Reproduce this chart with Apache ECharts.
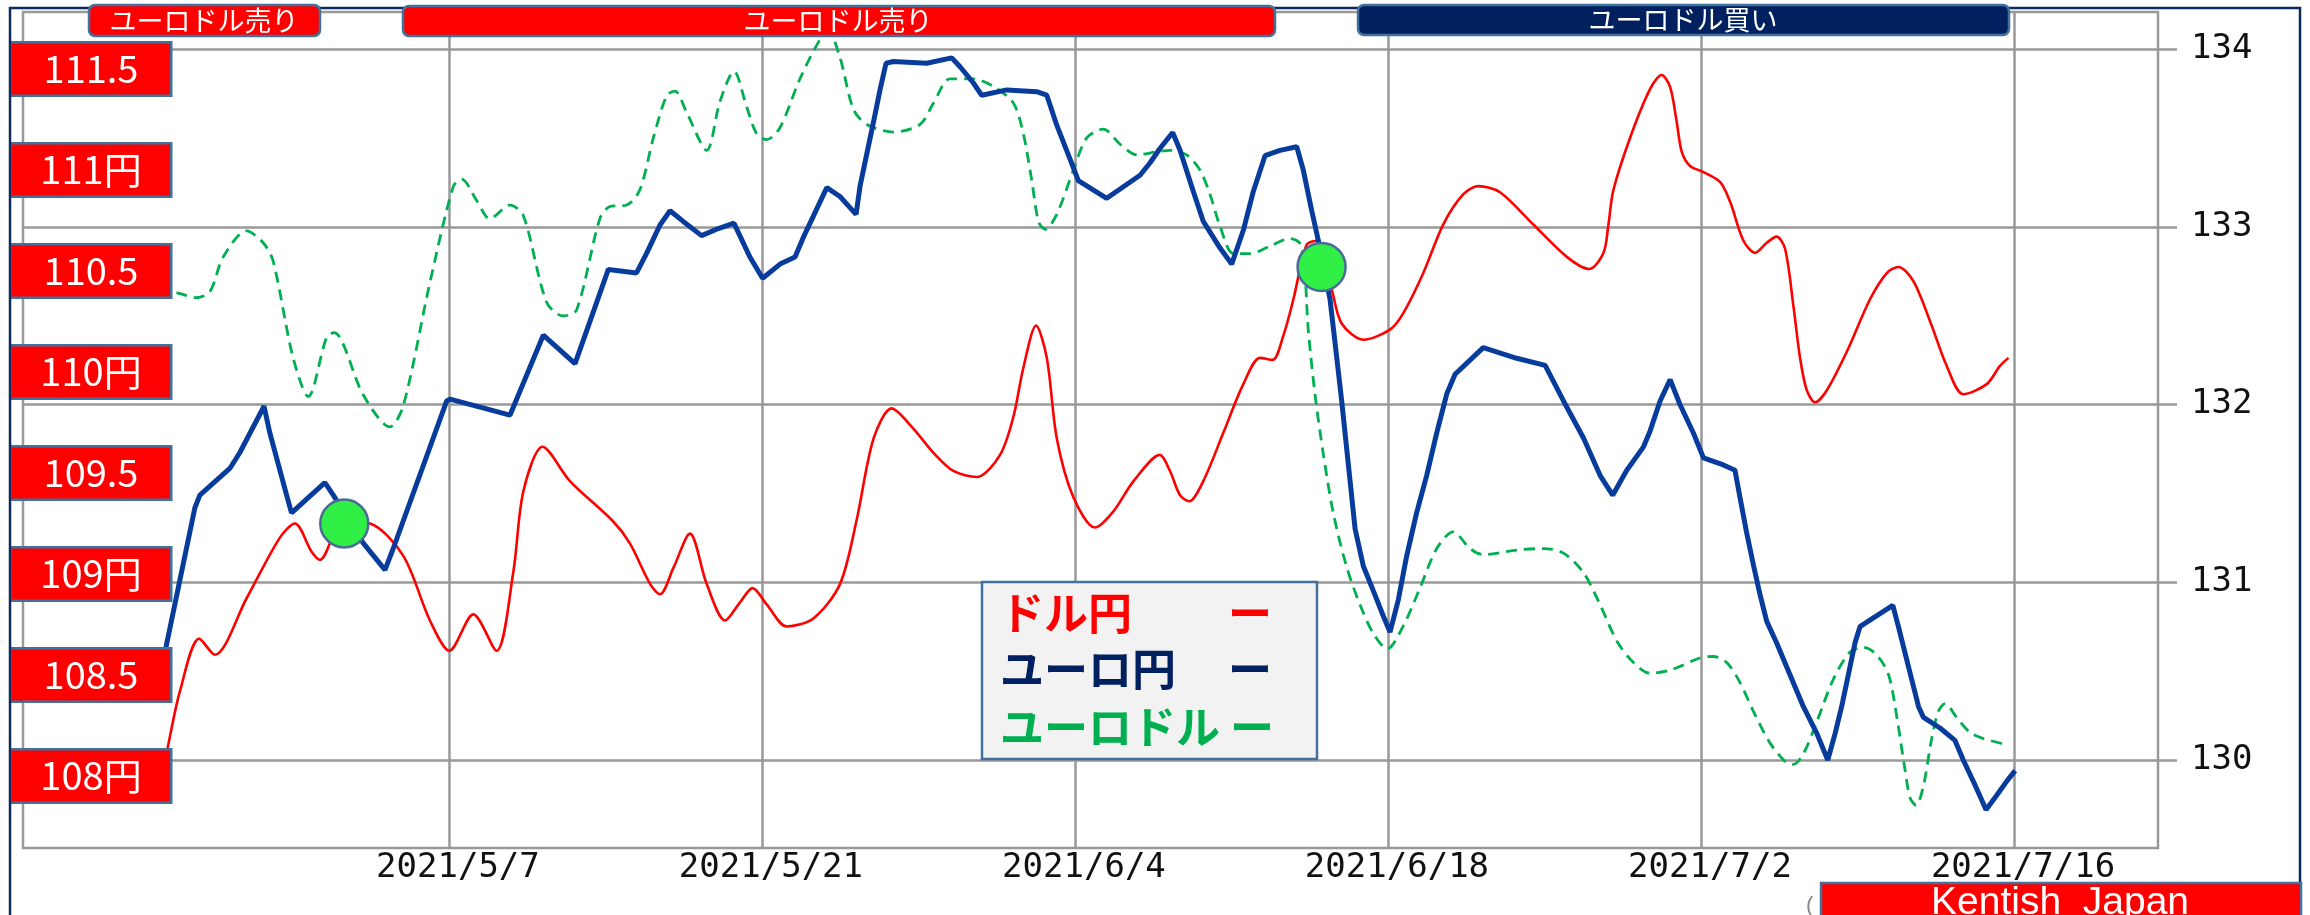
<!DOCTYPE html>
<html>
<head>
<meta charset="utf-8">
<title>ドル円・ユーロ円・ユーロドル</title>
<style>
  html, body { margin: 0; padding: 0; background: #fff; }
  #main { width: 2310px; height: 915px; }
</style>
</head>
<body>
<div id="main"></div>
<script src="https://cdn.jsdelivr.net/npm/echarts@6/dist/echarts.min.js"></script>
<script>
// x = days since 2021/4/23
var xTickDays = [14, 28, 42, 56, 70, 84];
var xLabels = ['2021/5/7', '2021/5/21', '2021/6/4', '2021/6/18', '2021/7/2', '2021/7/16'];

var leftTicks = [108, 108.5, 109, 109.5, 110, 110.5, 111, 111.5];
var leftLabels = ['108円', '108.5', '109円', '109.5', '110円', '110.5', '111円', '111.5'];
var rightTicks = [130, 131, 132, 133, 134];

// ドル円 (left axis)
var usdJpyDays = [1.0, 1.4, 1.97, 2.83, 3.53, 4.95, 6.44, 7.11, 7.86, 8.23, 9.27, 10.47, 11.96, 13.15, 14.02,
  15.09, 16.13, 16.88, 17.33, 18.19, 19.41, 21.35, 22.1, 23.0, 23.44, 24.04, 24.78, 25.53, 26.35, 27.02,
  27.58, 28.21, 29.11, 30.3, 31.49, 32.24, 32.99, 33.8, 34.77, 35.67, 36.56, 37.61, 38.65, 39.25, 39.69,
  40.26, 40.74, 41.19, 41.93, 42.9, 43.72, 44.62, 45.8, 46.25, 46.7, 47.11, 47.74, 48.64, 49.53, 50.28,
  50.84, 51.32, 51.77, 52.36, 52.81, 53.48, 53.93, 54.9, 56.09, 56.68, 57.58, 58.47, 59.37, 60.04, 61.01,
  62.5, 64.0, 65.01, 65.64, 65.86, 66.08, 66.83, 67.72, 68.24, 68.62, 68.91, 69.14, 69.51, 70.11, 70.86,
  71.31, 71.9, 72.42, 72.94, 73.38, 73.76, 74.13, 74.43, 74.73, 75.1, 75.63, 76.52, 77.56, 78.31, 78.83,
  79.5, 80.25, 80.99, 81.73, 82.78, 83.37, 83.75];
var usdJpy = [107.93, 108.13, 108.42, 108.68, 108.6, 108.88, 109.18, 109.25, 109.11, 109.07, 109.26, 109.25, 109.09, 108.77, 108.62,
  108.8, 108.62, 109.01, 109.41, 109.63, 109.46, 109.26, 109.15, 108.95, 108.9, 109.03, 109.2, 108.95, 108.77, 108.86,
  108.93, 108.85, 108.74, 108.78, 108.95, 109.27, 109.67, 109.82, 109.72, 109.6, 109.51, 109.48, 109.59, 109.78, 110.02,
  110.23, 110.07, 109.67, 109.38, 109.23, 109.31, 109.46, 109.59, 109.51, 109.39, 109.36, 109.46, 109.7, 109.94, 110.07,
  110.06, 110.18, 110.36, 110.63, 110.65, 110.41, 110.24, 110.16, 110.21, 110.29, 110.49, 110.73, 110.88, 110.92, 110.89,
  110.73, 110.57, 110.51, 110.59, 110.73, 110.9, 111.16, 111.4, 111.47, 111.41, 111.24, 111.09, 111.02, 110.99, 110.94,
  110.84, 110.65, 110.59, 110.64, 110.67, 110.61, 110.33, 110.07, 109.91, 109.85, 109.91, 110.1, 110.36, 110.49, 110.52,
  110.45, 110.25, 110.03, 109.89, 109.94, 110.03, 110.07];

// ユーロ円 (right axis)
var eurJpyDays = [1.0, 1.37, 2.64, 2.86, 4.2, 4.65, 5.73, 5.99, 6.74, 6.96, 8.45, 8.83, 10.17, 11.14, 11.51,
  13.9, 14.05, 16.73, 18.22, 19.64, 21.13, 22.39, 22.84, 23.44, 23.89, 24.48, 25.3, 26.05, 26.75, 27.01,
  27.46, 28.03, 28.81, 29.48, 29.85, 30.3, 30.9, 31.49, 32.21, 32.39, 32.69, 32.99, 33.28, 33.55, 33.88,
  35.37, 36.49, 36.86, 37.45, 37.83, 38.95, 40.29, 40.74, 41.19, 41.78, 42.15, 43.42, 44.91, 45.36, 45.8,
  46.37, 46.7, 47.29, 47.74, 48.49, 49.01, 49.53, 49.98, 50.5, 51.17, 51.92, 52.21, 52.59, 52.89, 53.41,
  53.63, 53.93, 54.23, 54.53, 54.9, 55.35, 55.79, 56.09, 56.46, 56.84, 57.28, 57.73, 58.18, 58.63, 59.0,
  59.67, 60.26, 61.76, 63.03, 63.85, 64.75, 65.49, 66.05, 66.68, 67.42, 67.72, 68.17, 68.62, 69.06, 69.66,
  70.11, 71.0, 71.52, 71.74, 72.04, 72.34, 72.64, 72.94, 73.38, 73.98, 74.58, 75.18, 75.67, 76.0, 76.29,
  76.59, 76.89, 77.11, 77.71, 78.58, 78.83, 79.13, 79.43, 79.73, 79.95, 80.69, 81.36, 81.73, 82.18, 82.75,
  83.22, 83.67, 84.05];
var eurJpy = [130.4, 130.65, 131.42, 131.49, 131.64, 131.73, 131.99, 131.84, 131.49, 131.39, 131.56, 131.49, 131.22, 131.07, 131.19,
  132.02, 132.03, 131.94, 132.39, 132.23, 132.76, 132.74, 132.85, 133.01, 133.09, 133.03, 132.95, 132.99, 133.02, 132.95,
  132.83, 132.71, 132.79, 132.83, 132.94, 133.06, 133.22, 133.17, 133.07, 133.23, 133.41, 133.59, 133.77, 133.92, 133.93,
  133.92, 133.95, 133.9, 133.81, 133.74, 133.77, 133.76, 133.74, 133.57, 133.38, 133.26, 133.16, 133.29, 133.36, 133.44,
  133.53, 133.43, 133.2, 133.03, 132.88, 132.79, 132.98, 133.2, 133.4, 133.43, 133.45, 133.32, 133.09, 132.92, 132.59,
  132.35, 132.02, 131.66, 131.3, 131.09, 130.95, 130.81, 130.72, 130.9, 131.15, 131.39, 131.6, 131.84, 132.06, 132.17,
  132.25, 132.32, 132.26, 132.22, 132.02, 131.81, 131.6, 131.49, 131.63, 131.76, 131.85, 132.02, 132.14, 132.0, 131.84,
  131.7, 131.66, 131.63, 131.48, 131.28, 131.1, 130.93, 130.78, 130.66, 130.48, 130.3, 130.15, 130.0, 130.15, 130.3,
  130.48, 130.66, 130.75, 130.8, 130.87, 130.75, 130.6, 130.45, 130.3, 130.24, 130.18, 130.11, 130.0, 129.88, 129.72,
  129.8, 129.88, 129.94];

// ユーロドル (hidden axis)
var eurUsdDays = [1.0, 1.89, 2.71, 3.31, 3.91, 4.95, 5.7, 6.14, 7.04, 7.71, 8.53, 8.86, 10.17, 11.36, 11.96,
  13.15, 14.19, 14.57, 15.24, 15.83, 16.73, 17.33, 18.37, 19.11, 19.71, 20.75, 21.2, 21.95, 22.54, 23.14,
  23.74, 24.11, 24.63, 25.53, 26.12, 26.75, 27.31, 27.76, 28.21, 28.81, 29.7, 30.6, 30.97, 31.49, 32.09,
  32.69, 33.88, 35.07, 35.67, 36.41, 37.45, 38.35, 39.25, 39.69, 40.07, 40.37, 40.67, 41.19, 41.93, 42.52,
  43.27, 44.02, 44.77, 45.66, 46.25, 46.99, 47.59, 48.04, 48.49, 49.09, 49.83, 50.72, 51.62, 52.14, 52.44,
  52.74, 53.11, 53.56, 54.15, 54.75, 55.35, 55.97, 56.68, 57.43, 58.18, 58.92, 59.67, 60.26, 61.76, 62.95,
  63.85, 64.75, 65.49, 66.24, 66.98, 67.72, 68.62, 69.95, 70.55, 71.15, 71.74, 72.34, 73.09, 73.83, 74.13,
  74.58, 75.18, 75.92, 76.67, 77.27, 77.86, 78.39, 78.76, 79.13, 79.35, 79.62, 79.95, 80.32, 80.62, 80.92,
  81.43, 82.03, 82.63, 83.67];
var eurUsd = [1.2106, 1.2105, 1.2102, 1.2106, 1.2129, 1.2146, 1.2138, 1.2126, 1.2062, 1.2037, 1.2076, 1.2079, 1.2038, 1.2017, 1.2031,
  1.2112, 1.2175, 1.218, 1.2166, 1.2154, 1.2163, 1.2156, 1.2099, 1.209, 1.2094, 1.2154, 1.2162, 1.2163, 1.2173, 1.2207,
  1.2235, 1.2238, 1.2224, 1.2199, 1.2231, 1.2251, 1.2228, 1.221, 1.2206, 1.2214, 1.2246, 1.2272, 1.2277, 1.226, 1.2226,
  1.2216, 1.2211, 1.2216, 1.223, 1.2246, 1.2246, 1.2241, 1.223, 1.221, 1.2179, 1.2152, 1.2147, 1.2157, 1.2186, 1.2207,
  1.2213, 1.2203, 1.2196, 1.2198, 1.2199, 1.2196, 1.2186, 1.217, 1.2149, 1.2131, 1.2131, 1.2136, 1.2141, 1.2136, 1.208,
  1.2038, 1.1999, 1.196, 1.1925, 1.19, 1.1881, 1.1871, 1.1886, 1.1911, 1.1937, 1.1948, 1.1937, 1.1933, 1.1936, 1.1937,
  1.1934, 1.1921, 1.19, 1.1876, 1.1862, 1.1855, 1.1857, 1.1865, 1.1866, 1.1862, 1.1849, 1.183, 1.1809, 1.1796, 1.1795,
  1.1802, 1.1823, 1.1851, 1.1869, 1.1872, 1.1867, 1.1854, 1.1826, 1.1791, 1.1773, 1.1768, 1.1781, 1.1812, 1.183, 1.1835,
  1.1826, 1.1816, 1.1812, 1.1808];

// 売買サイン (on ドル円 axis)
var signalDays = [9.32, 53.03];
var signalValues = [109.25, 110.52];

function pairs(xs, ys) {
  return xs.map(function (x, i) { return [x, ys[i]]; });
}
function labelOf(ticks, labels, v) {
  for (var i = 0; i < ticks.length; i++) {
    if (Math.abs(ticks[i] - v) < 1e-6) return labels[i];
  }
  return '';
}

var gray = '#999999';
var monoFont = 'DejaVu Sans Mono';
var jpFont = 'Noto Sans CJK JP';

var chart = echarts.init(document.getElementById('main'));
chart.setOption({
  animation: false,
  backgroundColor: '#fff',
  grid: {
    left: 23, right: 152, top: 12, bottom: 67,
    show: true, borderColor: gray, borderWidth: 2.5,
    outerBoundsMode: 'none'
  },
  xAxis: {
    type: 'value',
    min: -5.05, max: 90.44,
    axisLine: { show: false },
    axisTick: { show: false, customValues: xTickDays },
    splitLine: { show: true, lineStyle: { color: gray, width: 2.5 } },
    axisLabel: {
      customValues: xTickDays,
      formatter: function (v) { return labelOf(xTickDays, xLabels, v); },
      fontFamily: monoFont, fontSize: 34, color: '#111',
      margin: 3, padding: [0, 0, 0, 18]
    }
  },
  yAxis: [{
    type: 'value', position: 'left',
    min: 107.6436, max: 111.7822,
    z: 10,
    axisLine: { show: false },
    axisTick: { show: false, customValues: leftTicks },
    splitLine: { show: false },
    axisLabel: {
      customValues: leftTicks,
      inside: true, margin: -11,
      formatter: function (v) { return '{box|' + labelOf(leftTicks, leftLabels, v) + '}'; },
      rich: {
        box: {
          width: 158, height: 51, lineHeight: 51, align: 'center',
          backgroundColor: '#FF0000', borderColor: '#41719C', borderWidth: 2.5,
          color: '#fff', fontSize: 38, fontFamily: jpFont
        }
      }
    }
  }, {
    type: 'value', position: 'right',
    min: 129.5049, max: 134.2082,
    axisLine: { show: false },
    axisTick: { show: true, length: 19, customValues: rightTicks, lineStyle: { color: gray, width: 2.5 } },
    splitLine: { show: true, lineStyle: { color: gray, width: 2.5 } },
    axisLabel: {
      customValues: rightTicks,
      fontFamily: monoFont, fontSize: 34, color: '#111', margin: 33
    }
  }, {
    type: 'value', show: false,
    min: 1.174, max: 1.229
  }],
  series: [{
    name: 'ユーロドル', type: 'line', yAxisIndex: 2,
    data: pairs(eurUsdDays, eurUsd),
    smooth: 0.3, showSymbol: false, z: 2,
    lineStyle: { color: '#00B050', width: 2.8, type: [11, 7] }
  }, {
    name: 'ドル円', type: 'line', yAxisIndex: 0,
    data: pairs(usdJpyDays, usdJpy),
    smooth: 0.3, showSymbol: false, z: 3,
    lineStyle: { color: '#FF0000', width: 2.6 }
  }, {
    name: 'ユーロ円', type: 'line', yAxisIndex: 1,
    data: pairs(eurJpyDays, eurJpy),
    showSymbol: false, z: 4,
    lineStyle: { color: '#083C9C', width: 5 }
  }, {
    name: 'サイン', type: 'scatter', yAxisIndex: 0,
    data: pairs(signalDays, signalValues),
    symbolSize: 48, z: 6,
    itemStyle: { color: '#30F046', borderColor: '#4A6B9A', borderWidth: 2.5, opacity: 1 }
  }],
  graphic: [
    // outer frame
    { type: 'rect', z: 20, silent: true, shape: { x: 10, y: 8, width: 2290, height: 930 },
      style: { fill: 'none', stroke: '#0E2A5C', lineWidth: 2.5 } },
    // banners
    { type: 'rect', z: 21, shape: { x: 89, y: 5, width: 231, height: 31, r: 6 },
      style: { fill: '#FF0000', stroke: '#41719C', lineWidth: 2.5 } },
    { type: 'text', z: 22, style: { text: 'ユーロドル売り', x: 204, y: 21, align: 'center', verticalAlign: 'middle',
      fill: '#fff', fontSize: 27, fontFamily: jpFont } },
    { type: 'rect', z: 21, shape: { x: 403, y: 6, width: 872, height: 30, r: 6 },
      style: { fill: '#FF0000', stroke: '#41719C', lineWidth: 2.5 } },
    { type: 'text', z: 22, style: { text: 'ユーロドル売り', x: 838, y: 21, align: 'center', verticalAlign: 'middle',
      fill: '#fff', fontSize: 27, fontFamily: jpFont } },
    { type: 'rect', z: 21, shape: { x: 1358, y: 5, width: 651, height: 30, r: 6 },
      style: { fill: '#002060', stroke: '#41719C', lineWidth: 2.5 } },
    { type: 'text', z: 22, style: { text: 'ユーロドル買い', x: 1683, y: 20, align: 'center', verticalAlign: 'middle',
      fill: '#fff', fontSize: 27, fontFamily: jpFont } },
    // legend box
    { type: 'rect', z: 21, shape: { x: 982, y: 582, width: 335, height: 177 },
      style: { fill: '#F2F2F2', stroke: '#41719C', lineWidth: 2.5 } },
    { type: 'text', z: 22, style: { text: 'ドル円', x: 1000, y: 613, verticalAlign: 'middle',
      fill: '#FF0000', fontSize: 44, fontWeight: 'bold', fontFamily: jpFont } },
    { type: 'text', z: 22, style: { text: 'ー', x: 1228, y: 613, verticalAlign: 'middle',
      fill: '#FF0000', fontSize: 44, fontWeight: 'bold', fontFamily: jpFont } },
    { type: 'text', z: 22, style: { text: 'ユーロ円', x: 1000, y: 669, verticalAlign: 'middle',
      fill: '#002060', fontSize: 44, fontWeight: 'bold', fontFamily: jpFont } },
    { type: 'text', z: 22, style: { text: 'ー', x: 1228, y: 669, verticalAlign: 'middle',
      fill: '#002060', fontSize: 44, fontWeight: 'bold', fontFamily: jpFont } },
    { type: 'text', z: 22, style: { text: 'ユーロドル', x: 1000, y: 727, verticalAlign: 'middle',
      fill: '#00B050', fontSize: 44, fontWeight: 'bold', fontFamily: jpFont } },
    { type: 'text', z: 22, style: { text: 'ー', x: 1230, y: 727, verticalAlign: 'middle',
      fill: '#00B050', fontSize: 44, fontWeight: 'bold', fontFamily: jpFont } },
    // credit
    { type: 'text', z: 21, style: { text: '(', x: 1806, y: 906, verticalAlign: 'middle',
      fill: '#888', fontSize: 22, fontFamily: 'Liberation Sans' } },
    { type: 'rect', z: 21, shape: { x: 1821, y: 883, width: 480, height: 45 },
      style: { fill: '#FF0000', stroke: '#41719C', lineWidth: 2.5 } },
    { type: 'text', z: 22, style: { text: 'Kentish  Japan', x: 2060, y: 903, align: 'center', verticalAlign: 'middle',
      fill: '#fff', fontSize: 39, fontFamily: 'Liberation Sans' } }
  ]
});
</script>
</body>
</html>
